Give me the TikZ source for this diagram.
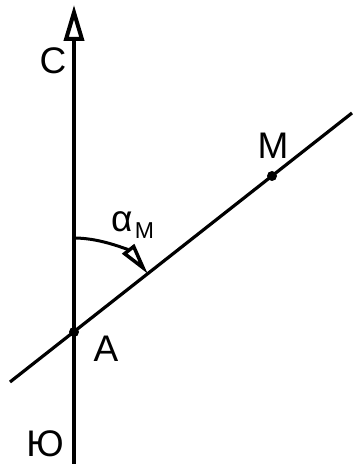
\documentclass[tikz,border=0pt]{standalone}
\usepackage{fontspec}
\setmainfont{Liberation Sans}
\usetikzlibrary{arrows.meta}
\tikzset{
  lbl/.style={font=\fontsize{37}{40}\selectfont, inner sep=0pt},
  dot/.style={circle, fill=black, inner sep=0pt, minimum size=10pt},
}

\begin{document}
\begin{tikzpicture}[x=1pt,y=1pt]
\useasboundingbox (0,0) rectangle (355,464);
\coordinate (S) at (74,0); % south
\coordinate (N) at (74,459); % north
\coordinate (L) at (10,82);
\coordinate (R) at (352,351);
\node[dot] (A) at (74,132) {};
\node[dot] (M) at (272,288) {};
% meridian
\draw[line width=4pt, -{Triangle[open, length=36pt, width=20pt, line width=4pt]}] (S) -- (N);
% direction to M
\draw[line width=3.2pt] (L) -- (R);
% azimuth
\draw[line width=3pt, -{Triangle[open, length=32pt, width=15pt, line width=3.5pt]}]
  (74,226) arc[start angle=90, end angle=38.2, radius=94];
\node[lbl] (nC) at (53,403) {С};
\node[lbl] (nJu) at (45,20.5) {Ю};
\node[lbl] (nA) at (106,115) {A};
\node[lbl] (nM) at (273,318) {M};
\node[inner sep=0pt, anchor=base west, font=\fontsize{37}{40}\selectfont] (alpha) at (111,232) {α};
\node[inner sep=0pt, anchor=base west, font=\fontsize{23}{26}\selectfont] (sub) at (alpha.base east) [yshift=-7pt, xshift=2pt] {M};
\end{tikzpicture}
\end{document}
